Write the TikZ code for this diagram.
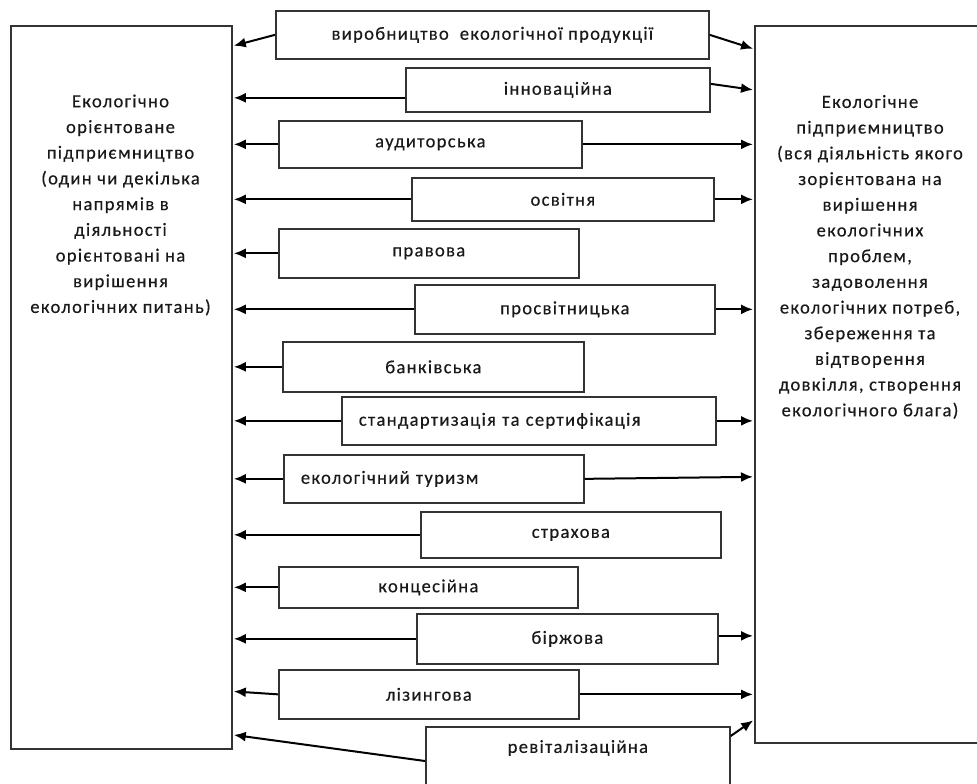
\documentclass[tikz,border=0pt]{standalone}
\usepackage{fontspec}
\setmainfont{Carlito}[LetterSpace=7,FakeBold=0.4]
\usetikzlibrary{arrows.meta,positioning,calc}

\tikzset{
  mbox/.style={draw=black!80, line width=1.7pt, anchor=north west, inner sep=0pt,
    align=center, text=black!90, font=\fontsize{18.6}{22}\selectfont},
  bigbox/.style={draw=black!80, line width=1.8pt, anchor=north west, inner sep=0pt},
  bigtext/.style={align=center, text=black!90, font=\fontsize{18.6}{25.7}\selectfont},
  arr/.style={-{Latex[length=12pt,width=10pt]}, line width=2pt, shorten >=1pt},
}

\begin{document}
\begin{tikzpicture}[x=1pt,y=-1pt]
  \useasboundingbox (0,0) rectangle (977,784);

  % the two big boxes
  \node[bigbox, minimum width=221pt, minimum height=723pt] (L) at (10,25) {};
  \node[bigtext] (Ltxt) at (120.5,205) {Екологічно\\орієнтоване\\підприємництво\\(один чи декілька\\напрямів в\\діяльності\\орієнтовані на\\вирішення\\екологічних питань)};

  \node[bigbox, minimum width=232pt, minimum height=717pt] (R) at (754,25) {};
  \node[bigtext] (Rtxt) at (870,257) {Екологічне\\підприємництво\\(вся діяльність якого\\зорієнтована на\\вирішення\\екологічних\\проблем,\\задоволення\\екологічних потреб,\\збереження та\\відтворення\\довкілля, створення\\екологічного блага)};

  % kinds of activity
  \node[mbox, minimum width=433pt, minimum height=48pt] (prod) at (275,10) {виробництво\ \ екологічної продукції};
  \node[mbox, minimum width=304pt, minimum height=44pt] (innov) at (405,67) {інноваційна};
  \node[mbox, minimum width=303pt, minimum height=47pt] (audit) at (278,120) {аудиторська};
  \node[mbox, minimum width=302pt, minimum height=43pt] (osvit) at (411,177) {освітня};
  \node[mbox, minimum width=300pt, minimum height=49pt] (prav) at (278,228) {правова};
  \node[mbox, minimum width=300pt, minimum height=49pt] (prosv) at (414,284) {просвітницька};
  \node[mbox, minimum width=301pt, minimum height=50pt] (bank) at (282,341) {банківська};
  \node[mbox, minimum width=374pt, minimum height=48pt, text width=340pt, inner xsep=17pt, align=left] (stand) at (341,396) {стандартизація та сертифікація};
  \node[mbox, minimum width=300pt, minimum height=48pt, text width=266pt, inner xsep=17pt, align=left] (tour) at (283,454) {екологічний туризм};
  \node[mbox, minimum width=300pt, minimum height=46pt] (strakh) at (420,511) {страхова};
  \node[mbox, minimum width=299pt, minimum height=41pt] (konc) at (278,566) {концесійна};
  \node[mbox, minimum width=301pt, minimum height=50pt] (birzh) at (416,613) {біржова};
  \node[mbox, minimum width=300pt, minimum height=49pt] (lizing) at (278,669) {лізингова};
  \node[mbox, minimum width=304pt, minimum height=80pt,
    label={[anchor=center, yshift=-22pt, text=black!90, font=\fontsize{18.6}{22}\selectfont]north:ревіталізаційна}] (revit) at (425,726) {};

  % arrows to the left box
  \draw[arr] (prod.west) -- ($(L.north east)+(0,21)$);
  \draw[arr] ($(innov.west)+(0,8)$) -- ($(L.east |- innov.west)+(0,8)$);
  \draw[arr] (audit.west) -- (audit.west -| L.east);
  \draw[arr] (osvit.west) -- (osvit.west -| L.east);
  \draw[arr] (prav.west) -- (prav.west -| L.east);
  \draw[arr] (prosv.west) -- (prosv.west -| L.east);
  \draw[arr] (bank.west) -- (bank.west -| L.east);
  \draw[arr] (stand.west) -- (stand.west -| L.east);
  \draw[arr] (tour.west) -- (tour.west -| L.east);
  \draw[arr] (strakh.west) -- (strakh.west -| L.east);
  \draw[arr] (konc.west) -- (konc.west -| L.east);
  \draw[arr] (birzh.west) -- (birzh.west -| L.east);
  \draw[arr] (lizing.west) -- ($(lizing.west -| L.east)+(0,-3)$);
  \draw[arr] ($(revit.north west)+(0,35)$) -- ($(L.south east)+(0,-15)$);

  % arrows to the right box
  \draw[arr] (prod.east) -- ($(R.north west)+(0,24)$);
  \draw[arr] ($(innov.east)+(0,-6)$) -- ($(R.north west)+(0,65)$);
  \draw[arr] (audit.east) -- (audit.east -| R.west);
  \draw[arr] (osvit.east) -- (osvit.east -| R.west);
  \draw[arr] (prosv.east) -- (prosv.east -| R.west);
  \draw[arr] (stand.east) -- (stand.east -| R.west);
  \draw[arr] (tour.east) -- ($(tour.east -| R.west)+(0,-2)$);
  \draw[arr] ($(birzh.east)+(0,-3)$) -- ($(birzh.east -| R.west)+(0,-3)$);
  \draw[arr] (lizing.east) -- (lizing.east -| R.west);
  \draw[arr] ($(revit.north east)+(0,10)$) -- ($(R.south west)+(0,-24)$);
\end{tikzpicture}
\end{document}
